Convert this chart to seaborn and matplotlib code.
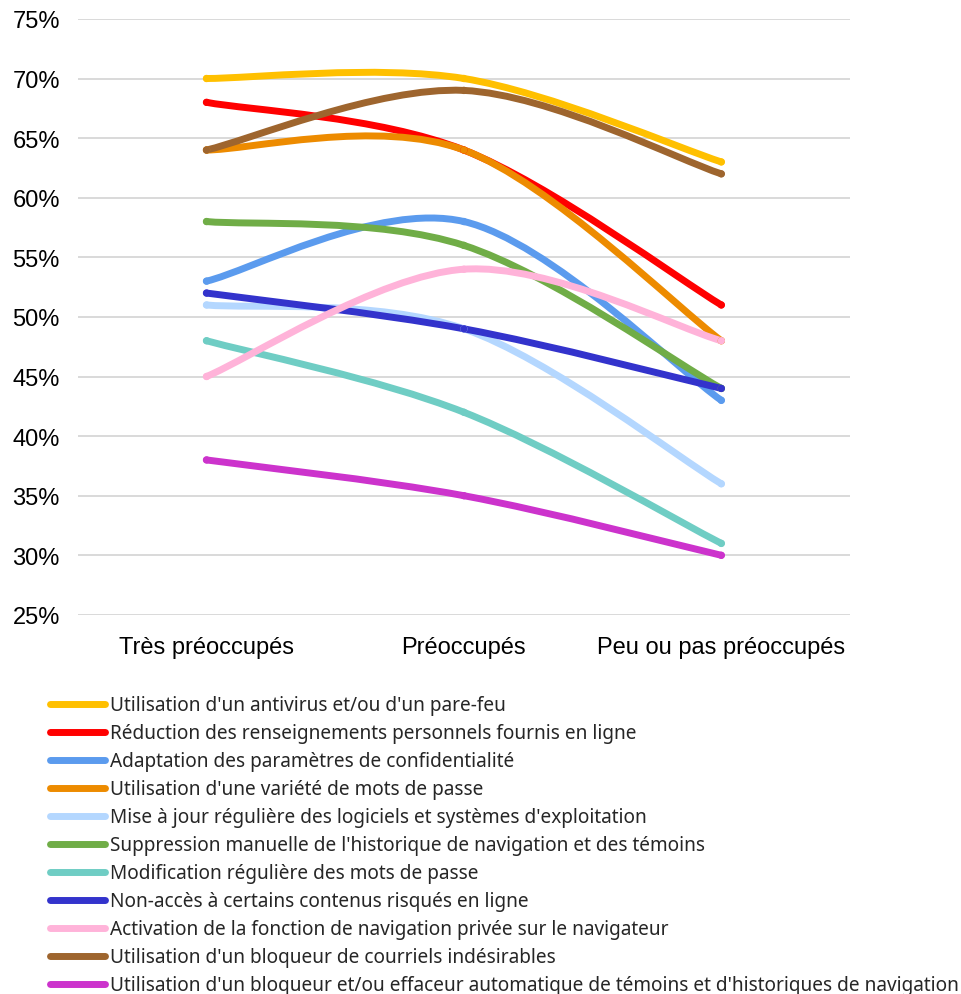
import numpy as np
import pandas as pd
import seaborn as sns
import matplotlib.pyplot as plt
from matplotlib.path import Path
from matplotlib.patches import PathPatch
from matplotlib.lines import Line2D
from matplotlib.ticker import PercentFormatter

categories = ['Très préoccupés', 'Préoccupés', 'Peu ou pas préoccupés']

series = [
    "Utilisation d'un antivirus et/ou d'un pare-feu",
    "Réduction des renseignements personnels fournis en ligne",
    "Adaptation des paramètres de confidentialité",
    "Utilisation d'une variété de mots de passe",
    "Mise à jour régulière des logiciels et systèmes d'exploitation",
    "Suppression manuelle de l'historique de navigation et des témoins",
    "Modification régulière des mots de passe",
    "Non-accès à certains contenus risqués en ligne",
    "Activation de la fonction de navigation privée sur le navigateur",
    "Utilisation d'un bloqueur de courriels indésirables",
    "Utilisation d'un bloqueur et/ou effaceur automatique de témoins et d'historiques de navigation",
]

antivirus = [70, 70, 63]
reduction = [68, 64, 51]
adaptation = [53, 58, 43]
variete_mdp = [64, 64, 48]
mise_a_jour = [51, 49, 36]
suppression = [58, 56, 44]
modification_mdp = [48, 42, 31]
non_acces = [52, 49, 44]
navigation_privee = [45, 54, 48]
bloqueur_courriels = [64, 69, 62]
bloqueur_temoins = [38, 35, 30]

valeurs = [antivirus, reduction, adaptation, variete_mdp, mise_a_jour, suppression,
           modification_mdp, non_acces, navigation_privee, bloqueur_courriels,
           bloqueur_temoins]

couleurs = ['#FFC000', '#FF0000', '#5B9BEE', '#ED8B00', '#B4D7FF', '#70AD47',
            '#6FCDC4', '#3333CC', '#FFB3D9', '#9E652E', '#CC33CC']

df = pd.DataFrame([
    {'serie': s, 'x': i, 'valeur': v}
    for s, vals in zip(series, valeurs)
    for i, v in enumerate(vals)
])

sns.set_style('white')
plt.rcParams['font.family'] = ['Liberation Sans', 'DejaVu Sans']

fig = plt.figure(figsize=(9.61, 9.95), dpi=100)
ax = fig.add_axes([0.081, 0.381, 0.8035, 0.599])


def courbe_lissee(xs, ys):
    # lissage type Excel : segments de Bézier cubiques (Catmull-Rom)
    pts = np.column_stack([xs, ys]).astype(float)
    ext = np.vstack([pts[0], pts, pts[-1]])
    verts = [pts[0]]
    codes = [Path.MOVETO]
    for i in range(len(pts) - 1):
        p0, p1, p2, p3 = ext[i], ext[i + 1], ext[i + 2], ext[i + 3]
        verts += [p1 + (p2 - p0) / 6, p2 - (p3 - p1) / 6, p2]
        codes += [Path.CURVE4] * 3
    return Path(verts, codes)


for s, c in zip(series, couleurs):
    d = df[df.serie == s]
    ax.add_patch(PathPatch(courbe_lissee(d.x, d.valeur), facecolor='none',
                           edgecolor=c, lw=5, capstyle='round', zorder=3))

sns.scatterplot(data=df, x='x', y='valeur', hue='serie', palette=couleurs,
                s=28, linewidth=0, legend=False, ax=ax, zorder=4)

ax.set_xlim(-0.5, 2.5)
ax.set_ylim(25, 75)
ax.set_yticks(range(25, 80, 5))
ax.yaxis.set_major_formatter(PercentFormatter(decimals=0))
ax.set_xticks(range(3))
ax.set_xticklabels(categories)
ax.set_xlabel('')
ax.set_ylabel('')
ax.grid(axis='y', color='#D9D9D9', lw=1.4)
ax.set_axisbelow(True)
for sp in ax.spines.values():
    sp.set_visible(False)
ax.tick_params(axis='both', length=0, labelsize=17, colors='#000000')
ax.tick_params(axis='y', pad=13)
ax.tick_params(axis='x', pad=15)

handles = [Line2D([], [], color=c, lw=5, solid_capstyle='round') for c in couleurs]
fig.legend(handles, series, loc='upper left', bbox_to_anchor=(0.052, 0.300),
           frameon=False, handlelength=2.9, handletextpad=0.25,
           labelspacing=0.42, borderaxespad=0, borderpad=0,
           prop={'family': 'Noto Sans', 'size': 13.7})

fig.savefig('out.png', dpi=100)
